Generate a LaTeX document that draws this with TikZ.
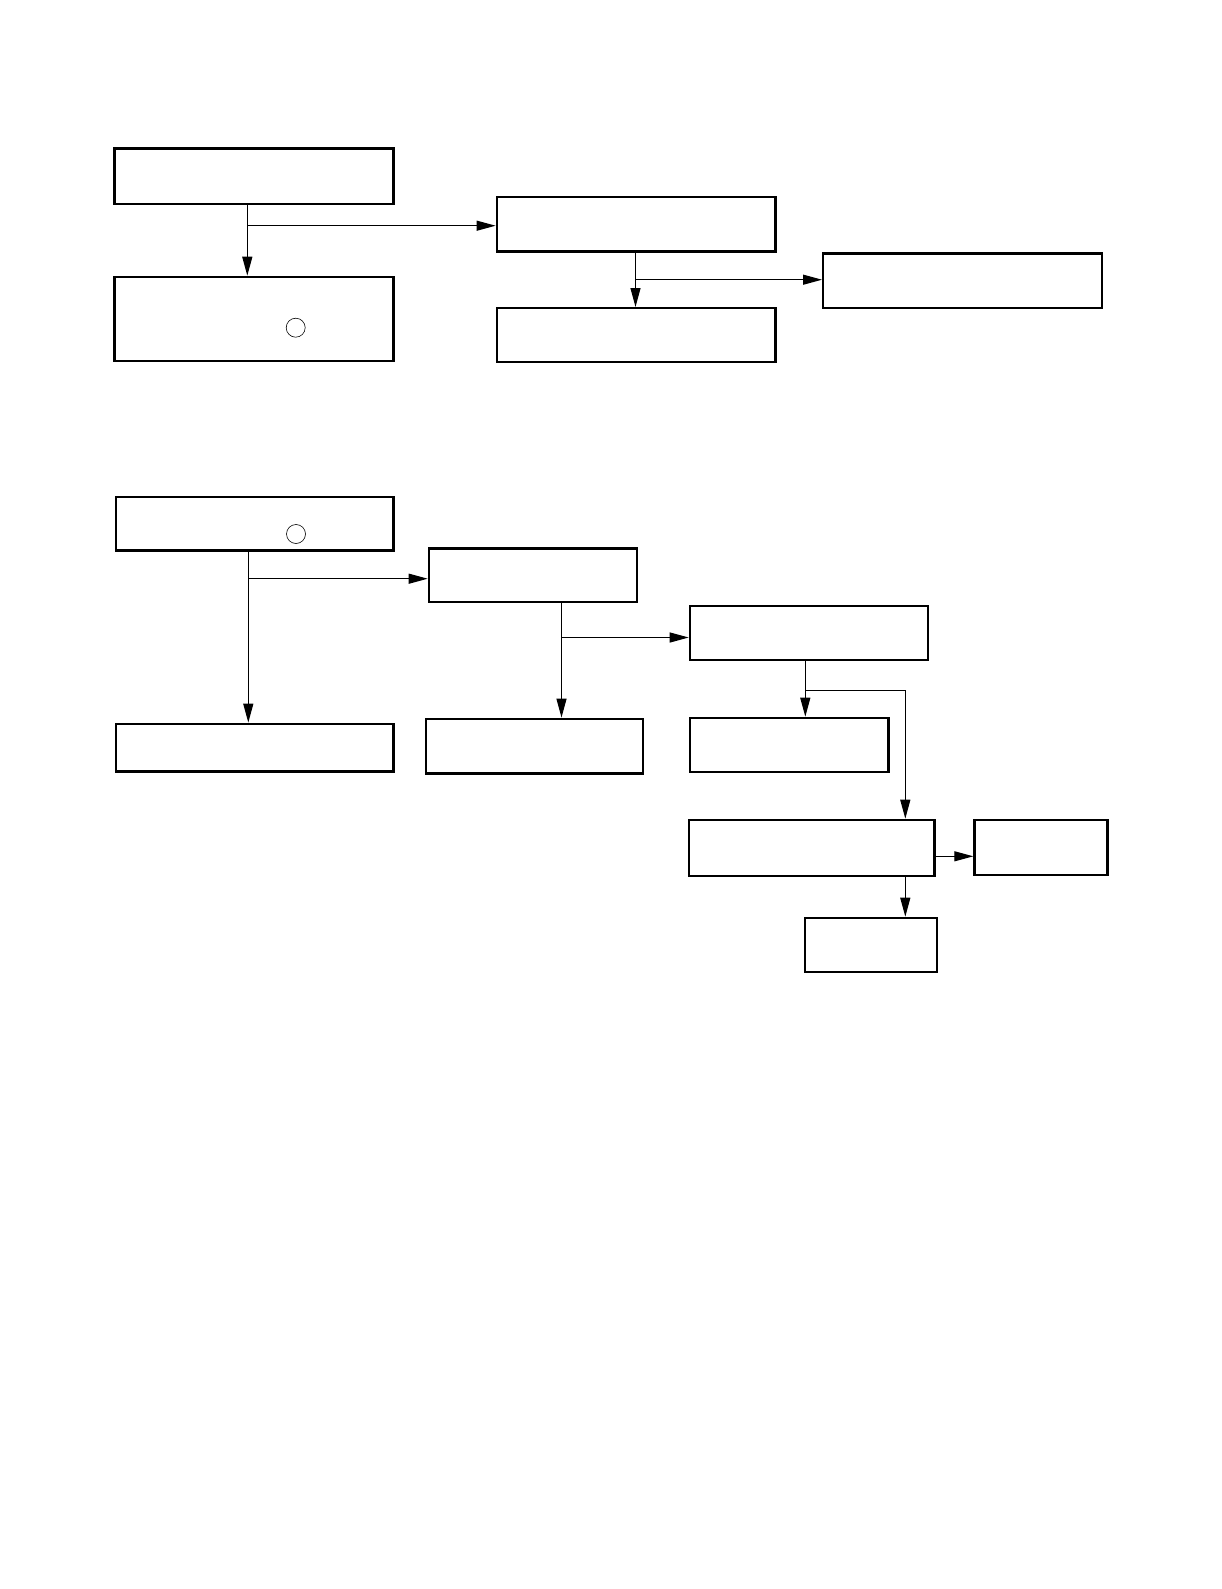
\documentclass[tikz,border=0pt]{standalone}
\usepackage{tikz}
\usetikzlibrary{arrows.meta}
\tikzset{
    block/.style={draw=black, line width=2.4pt, rectangle, inner sep=0pt, anchor=north west},
    ring/.style={draw=black, line width=0.6pt, circle, inner sep=0pt, minimum size=19pt},
    flow/.style={draw=black, line width=1.2pt, -{Triangle[length=19pt,width=10pt]}}
}
\begin{document}
\begin{tikzpicture}[x=1pt, y=-1pt]
\useasboundingbox (0,0) rectangle (1221,1589);
% upper chart
\node[style={block}, minimum width=279pt, minimum height=55.4pt] (start) at (113.3,147.3) {};
\node[style={block}, minimum width=279pt, minimum height=84.3pt] (left) at (113.3,275.7) {};
\node[style={ring}] (leftring) at (295.7,327.7) {};
\node[style={block}, minimum width=278.7pt, minimum height=54.7pt] (mid) at (495.6,195.6) {};
\node[style={block}, minimum width=278.7pt, minimum height=53.8pt] (midlow) at (495.6,307) {};
\node[style={block}, minimum width=278.7pt, minimum height=54.6pt] (far) at (822,252.4) {};
\coordinate (split1) at (247.3,225.7);
\coordinate (split2) at (635.5,279.7);
\draw[style={flow}] (start.south -| split1) -- (left.north -| split1);
\draw[style={flow}] (split1) -- (mid.west |- split1);
\draw[style={flow}] (mid.south -| split2) -- (midlow.north -| split2);
\draw[style={flow}] (split2) -- (far.west |- split2);
% lower chart
\node[style={block}, minimum width=277.7pt, minimum height=53.7pt] (top) at (114.5,495.6) {};
\node[style={ring}] (topring) at (296,534) {};
\node[style={block}, minimum width=207.8pt, minimum height=53.7pt] (second) at (427.7,547.3) {};
\node[style={block}, minimum width=238pt, minimum height=54pt] (third) at (688.7,605) {};
\node[style={block}, minimum width=277.7pt, minimum height=47.7pt] (endA) at (114.5,722.6) {};
\node[style={block}, minimum width=216.8pt, minimum height=54.7pt] (endB) at (424.7,717.6) {};
\node[style={block}, minimum width=198.6pt, minimum height=54.3pt] (endC) at (688.7,716.7) {};
\node[style={block}, minimum width=245.6pt, minimum height=56.3pt] (fourth) at (687.7,818.7) {};
\node[style={block}, minimum width=133pt, minimum height=55.3pt] (endD) at (973.3,818.7) {};
\node[style={block}, minimum width=132.3pt, minimum height=54.3pt] (endE) at (803.7,916.7) {};
\coordinate (split3) at (248.3,578.7);
\coordinate (split4) at (561.5,637.5);
\coordinate (split5) at (805.3,690.3);
\coordinate (turn5) at (905.3,690.3);
\draw[style={flow}] (top.south -| split3) -- (endA.north -| split3);
\draw[style={flow}] (split3) -- (second.west |- split3);
\draw[style={flow}] (second.south -| split4) -- (endB.north -| split4);
\draw[style={flow}] (split4) -- (third.west |- split4);
\draw[style={flow}] (third.south -| split5) -- (endC.north -| split5);
\draw[style={flow}] (split5) -- (turn5) -- (fourth.north -| turn5);
\draw[style={flow}] (fourth.east |- 0,856.3) -- (endD.west |- 0,856.3);
\draw[style={flow}] (fourth.south -| turn5) -- (endE.north -| turn5);
\end{tikzpicture}
\end{document}
